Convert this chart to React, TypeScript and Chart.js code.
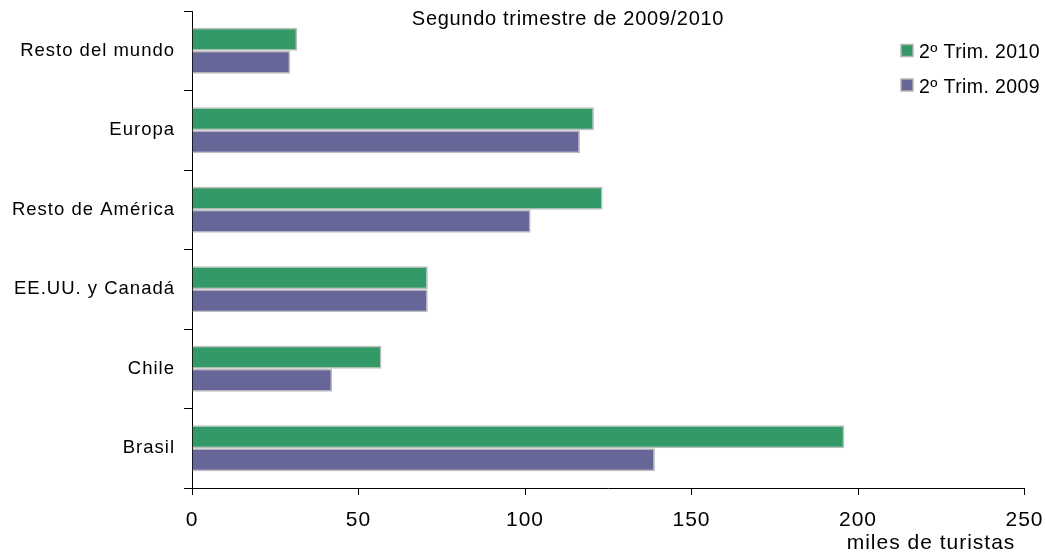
import React, { useEffect, useRef } from "react";
import { Chart, registerables } from "chart.js";

Chart.register(...registerables);

const categories = ["Resto del mundo", "Europa", "Resto de América", "EE.UU. y Canadá", "Chile", "Brasil"];
const trim2010 = [31.6, 120.7, 123.3, 70.8, 56.9, 195.9];
const trim2009 = [29.5, 116.5, 101.7, 70.8, 42.1, 139.0];
const seriesNames = ["2º Trim. 2010", "2º Trim. 2009"];
const seriesColors = ["#339966", "#666699"];
const titleText = "Segundo trimestre de 2009/2010";
const axisTitleText = "miles de turistas";
const FONT = "'Liberation Sans', Arial, sans-serif";

const overlayPlugin = {
  id: "overlay",
  beforeDraw(chart: any) {
    (chart.ctx as any).letterSpacing = "1px";
  },
  afterDraw(chart: any) {
    const ctx = chart.ctx as any;
    ctx.save();
    ctx.fillStyle = "#000";
    // title
    ctx.letterSpacing = "0.7px";
    ctx.font = `20px ${FONT}`;
    ctx.textAlign = "center";
    ctx.textBaseline = "alphabetic";
    ctx.fillText(titleText, 568, 25);
    // axis title
    ctx.letterSpacing = "1px";
    ctx.font = `21px ${FONT}`;
    ctx.textAlign = "center";
    ctx.fillText(axisTitleText, 931, 549);
    // legend
    ctx.letterSpacing = "0.4px";
    ctx.font = `19.5px ${FONT}`;
    ctx.textAlign = "left";
    const rows = [58, 92.5];
    seriesNames.forEach((name, i) => {
      const cy = rows[i] - 7.5;
      ctx.fillStyle = seriesColors[i];
      ctx.fillRect(901, cy - 6, 12, 12);
      ctx.strokeStyle = "#b5b5b5";
      ctx.lineWidth = 1.5;
      ctx.strokeRect(901, cy - 6, 12, 12);
      ctx.fillStyle = "#000";
      ctx.fillText(name, 919, rows[i]);
    });
    ctx.restore();
    ctx.letterSpacing = "0px";
  },
};

export default function App() {
  const ref = useRef<HTMLCanvasElement | null>(null);
  useEffect(() => {
    document.body.style.margin = "0";
    if (!ref.current) return;
    const chart = new Chart(ref.current, {
      type: "bar",
      data: {
        labels: categories,
        datasets: [
          {
            label: seriesNames[0],
            data: trim2010,
            backgroundColor: seriesColors[0],
            borderColor: "#bdbdbd",
            borderWidth: 1.5,
            categoryPercentage: 0.578,
            barPercentage: 1,
          },
          {
            label: seriesNames[1],
            data: trim2009,
            backgroundColor: seriesColors[1],
            borderColor: "#bdbdbd",
            borderWidth: 1.5,
            categoryPercentage: 0.578,
            barPercentage: 1,
          },
        ],
      },
      options: {
        indexAxis: "y",
        animation: false,
        responsive: false,
        devicePixelRatio: 1,
        layout: { padding: { top: 11, right: 20.5, left: 0, bottom: 0 } },
        plugins: {
          legend: { display: false },
          title: { display: false },
          tooltip: { enabled: false },
        },
        scales: {
          x: {
            min: 0,
            max: 250,
            ticks: {
              stepSize: 50,
              color: "#000",
              font: { family: FONT, size: 21 },
              padding: 13,
              maxRotation: 0,
            },
            grid: {
              drawOnChartArea: false,
              drawTicks: true,
              tickLength: 7,
              color: "#000",
            },
            border: { display: true, color: "#000", width: 1 },
            afterFit(scale: any) {
              scale.height = 64;
              scale.paddingLeft = 0;
              scale.paddingRight = 0;
            },
          },
          y: {
            ticks: {
              color: "#000",
              font: { family: FONT, size: 18.5 },
              padding: 9,
            },
            grid: {
              drawOnChartArea: false,
              drawTicks: true,
              tickLength: 8,
              color: "#000",
              offset: true,
            },
            border: { display: true, color: "#000", width: 1 },
            afterFit(scale: any) {
              scale.width = 192;
              scale.paddingTop = 0;
              scale.paddingBottom = 0;
            },
          },
        },
      },
      plugins: [overlayPlugin],
    });
    return () => chart.destroy();
  }, []);
  return (
    <div style={{ position: "absolute", left: 0, top: 0, width: 1045, height: 552 }}>
      <canvas ref={ref} width={1045} height={552} />
    </div>
  );
}
